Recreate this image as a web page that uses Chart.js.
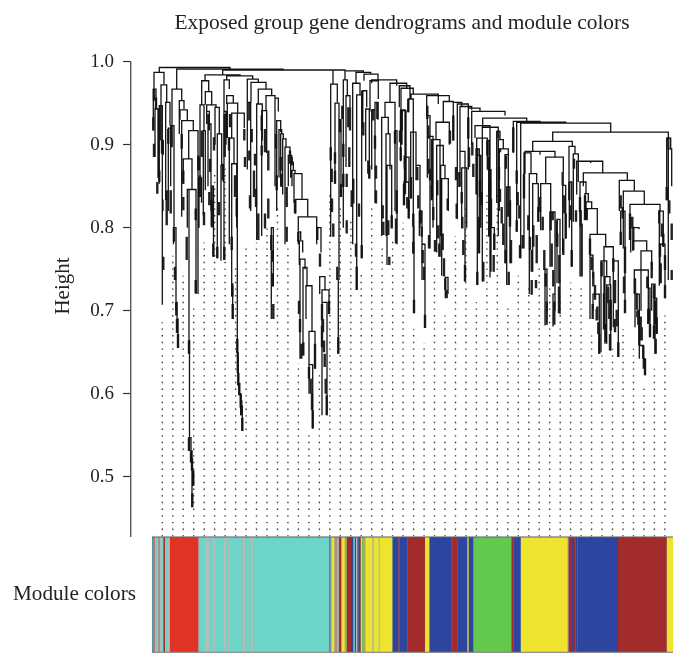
<!DOCTYPE html>
<html><head><meta charset="utf-8">
<style>html,body{margin:0;padding:0;background:#fff;height:656px;overflow:hidden}canvas{display:block}</style>
<script src="https://cdn.jsdelivr.net/npm/chart.js@4"></script>
</head><body><canvas id="c" width="673" height="673"></canvas>
<script>
const chartTitle = 'Exposed group gene dendrograms and module colors';
const yAxisTitle = 'Height';
const stripLabel = 'Module colors';
const heightTicks = [0.5,0.6,0.7,0.8,0.9,1.0];

// branches: [leftLeaf, rightLeaf, mergeHeight, leftFootHeight, rightFootHeight]
const branchesTop = [
[7.3,78,.993,.987,.991],[24.7,131,.991,.967,.990],[70.7,181,.990,.985,.973],[131,193,.990,.989,.989],
[193,211.3,.989,.978,.987],[204,218.7,.987,.974,.985],[212,226,.985,.977,.977],[219.7,244.7,.978,.974,.974],
[238,254.7,.974,.951,.971],[244.7,254.7,.974,.971,.968]];
const branchesLeft = [
[2,12,.987,.967,.973],[1.3,4,.967,.917,.943],[3,6,.943,.885,.860],[9,14.7,.972,.947,.951],[7.3,10.3,.947,.853,.905],
[10.3,11.3,.905,.833,.888],[10.3,11,.833,.707,.82],[13.7,18,.951,.833,.923],[16.3,18.7,.92,.82,.85],
[20,29.7,.967,.923,.953],[18.7,22,.923,.85,.80],[21.5,24,.80,.78,.71],[24,25,.71,.70,.69],[25,26,.69,.675,.655],
[27.3,32,.953,.913,.943],[28,35.3,.942,.93,.929],[29.7,41.3,.929,.813,.917],[36.7,46,.917,.883,.72],
[31.3,40,.883,.853,.846],[35.3,44,.846,.80,.72],[35.3,37,.846,.80,.664],[37,37.5,.664,.648,.547],
[37,39,.547,.531,.531],[39,40,.531,.517,.522],[40,41.3,.507,.463,.489],[40,40,.522,.507,.507],
[53,88,.984,.977,.983],[49.7,56.7,.977,.948,.964],[53.3,59.7,.964,.948,.948],[48,52,.948,.86,.917],
[47,49.5,.86,.80,.83],[51.3,53.3,.917,.815,.845],[54.7,64,.948,.94,.945],[54.7,57.3,.94,.925,.917],
[56,59,.925,.85,.82],[60,61.5,.85,.80,.765],[63,67.3,.945,.90,.913],[65.3,69.7,.913,.763,.875],
[69,71.3,.875,.76,.855],[72,77.3,.978,.94,.967],[72,74,.94,.761,.90],[74.7,81.3,.959,.949,.95],
[75.3,85.7,.95,.908,.938],[79.7,92.3,.938,.908,.92],[77.3,82,.908,.78,.877],[79.7,84.7,.877,.717,.80],
[85.3,92.3,.938,.649,.92],[85.3,86.3,.649,.625,.61],[86.3,87.3,.61,.613,.598],[87.3,88.7,.60,.598,.583],[88.7,90.3,.585,.574,.555],
[74.7,100.7,.983,.978,.979],[95.3,106.3,.979,.949,.975],[95.3,98.7,.951,.87,.82],[99,114,.975,.951,.967],
[104.7,110.3,.949,.785,.905],[106.3,119.7,.967,.949,.959],[114,123,.959,.941,.956],[109.7,114.7,.941,.79,.89],
[123,126.3,.956,.85,.94],[124.7,128.7,.929,.82,.915],[127,129.7,.918,.86,.913],[128.7,131.3,.913,.85,.907],
[130.7,134,.907,.84,.897],[133,138,.897,.78,.887],[136.3,139.7,.887,.85,.877],[138.7,141.3,.879,.86,.87],
[140,143,.869,.85,.865],[142,150,.865,.83,.834],[143.7,155.7,.834,.817,.813],[146.3,164.7,.813,.796,.80],
[146.3,148.7,.795,.78,.785],[147.3,150.7,.784,.755,.77],[148,153,.762,.642,.75],[151,155,.752,.646,.73],
[154,160,.73,.69,.675],[157,163,.675,.635,.63],[157,160.7,.635,.60,.558],[164.7,169,.80,.78,.77],[167.7,173,.741,.72,.725],
[170,177,.725,.574,.696],[170,175,.71,.655,.574],[119.3,121.3,.80,.69,.729],[80.7,80.7,.73,.69,.69]];
const branchesMiddle = [
[178.7,185.3,.973,.789,.951],[183,187,.95,.853,.737],[187,189,.93,.915,.837],[186.3,186.3,.737,.648,.648],
[191.3,195.3,.978,.80,.958],[194,198,.959,.873,.945],[200.7,208,.974,.78,.96],[204.7,209.7,.96,.725,.763],
[210.3,214.7,.965,.92,.945],[213.7,217.3,.943,.88,.86],[218,226.3,.977,.94,.955],[219.7,223,.942,.87,.91],
[223,226,.951,.83,.93],[233,243,.951,.933,.917],[229.7,236.3,.933,.79,.913],[234,238,.913,.79,.87],
[235,239.7,.875,.755,.80],[243,245,.917,.82,.78],[247.3,258,.971,.945,.955],[248.7,253,.942,.88,.84],[253,257,.885,.84,.82],
[249,261.3,.968,.917,.961],[259,286.3,.961,.955,.949],[256.3,261.3,.955,.939,.801],[261.3,262,.801,.769,.697],
[250,254,.941,.90,.855],[252,256.7,.855,.827,.811],[258.7,264,.915,.835,.875],[264,268,.875,.857,.80],
[267.3,270,.82,.79,.78],[270,273,.78,.737,.679],[274.7,297.3,.959,.935,.952],[275.3,278,.935,.865,.775],
[275.3,281,.91,.86,.80],[291.3,301.3,.952,.927,.935],[284,297.3,.927,.906,.90],[279.7,288,.906,.835,.765],
[284.7,291.3,.899,.77,.875],[288.7,293,.875,.79,.859],[289.7,296.3,.859,.742,.82],[293.3,296,.74,.715,.72],
[301.3,309.7,.951,.905,.947],[305.3,316.3,.949,.81,.93],[308,319.7,.946,.89,.942],[316.3,328,.944,.87,.94],
[308,313,.892,.85,.735],[309.7,314.7,.872,.80,.80],[319.7,353,.94,.90,.935],[330.7,374.7,.932,.921,.928],
[323,338,.923,.908,.74],[324.7,335.3,.908,.887,.905],[324,327.3,.895,.84,.77],[325.3,328.7,.887,.731,.80],
[335.3,337,.905,.87,.85],[336.7,339,.87,.79,.80],[339,342.3,.80,.747,.773],[330.3,346.3,.921,.735,.916],
[344.7,348,.916,.83,.906],[346.3,351.3,.906,.79,.895],[347.3,356.3,.895,.82,.888],[353,356.3,.888,.757,.849],[354.7,358,.849,.731,.757]];
const branchesRight = [
[361.3,388,.928,.89,.927],[364.7,413.7,.927,.795,.926],[368.7,458.7,.926,.763,.915],[400.7,516.3,.915,.904,.908],
[380.7,420.3,.904,.892,.898],[373,403,.892,.865,.885],[388,403,.892,.888,.888],[393.7,411.3,.885,.853,.867],[388.7,398.7,.853,.797,.819],
[380.7,386.3,.853,.747,.807],[377.3,384.7,.865,.72,.853],[372,379,.89,.775,.865],[398,403,.819,.753,.72],
[401,403,.72,.681,.70],[410.7,413.7,.851,.77,.787],[405,408,.81,.733,.696],[393,395,.75,.682,.70],
[417,423,.898,.855,.889],[417.3,419.7,.855,.80,.753],[421.3,426.3,.889,.807,.88],[424.7,438.7,.88,.84,.878],
[426.3,450.7,.88,.855,.866],[431.3,475.3,.866,.85,.857],[428,434,.855,.741,.841],[433,436.3,.841,.81,.831],
[434,439.7,.831,.81,.823],[434.7,445.3,.823,.81,.792],[438,453.7,.792,.705,.777],[452,461.3,.777,.68,.76],
[449,454.7,.76,.65,.74],[453,458,.741,.66,.731],[454.7,458.7,.731,.66,.652],[438,441,.767,.69,.74],[441,447.3,.72,.70,.648],
[461.3,466.3,.76,.68,.644],[467.3,482.3,.857,.82,.844],[471.3,492.3,.844,.775,.828],[478,508,.828,.785,.82],
[478.7,487,.80,.77,.798],[481,494.7,.784,.772,.772],[489,499.7,.772,.70,.749],[482.3,496.3,.749,.72,.727],
[483,487.3,.72,.68,.658],[487.3,491.3,.658,.642,.64],[491.3,493,.642,.63,.622],[496.3,498,.727,.684,.668],
[499.7,503,.732,.70,.648],[502,504.7,.715,.666,.672],[514.7,518.7,.908,.833,.895],[516.3,519.7,.895,.737,.85],
[507.3,511.3,.82,.73,.777],[508,513,.78,.733,.715],[468.7,473,.82,.779,.699]];

// dense narrow merges: [leaf, topHeight, bottomHeight]
const stubsLeft = [[1.3,.933,.917],[2,.901,.885],[4,.957,.943],[2,.967,.953],[7.3,.869,.855],[5.3,.855,.841],[10,.905,.889],[8.7,.947,.905],
[14.7,.845,.803],[18.7,.845,.817],[16.3,.919,.901],[19.7,.923,.897],[11.3,.765,.749],[22,.799,.783],[23,.753,.737],[29.7,.913,.895],
[31.3,.869,.853],[31.3,.837,.821],[46.3,.887,.869],[43.7,.823,.809],[43.7,.737,.721],[34.7,.789,.761],[49.7,.917,.885],[47,.885,.869],
[48,.863,.837],[52,.819,.803],[56.3,.937,.925],[58,.883,.867],[57.3,.843,.827],[59.7,.833,.801],[62,.909,.893],[61.3,.781,.765],[67,.831,.815],
[65.3,.777,.763],[70.7,.877,.857],[72.7,.937,.885],[77,.909,.893],[78,.937,.921],[72.3,.777,.761],[79.7,.789,.773],[83,.863,.837],[84.7,.835,.813],
[80.3,.733,.717],[92.3,.919,.905],[93,.885,.873],[97.3,.951,.929],[99.7,.919,.903],[97.3,.893,.881],[103,.889,.875],[102,.869,.837],[98,.839,.823],
[104,.847,.825],[106.3,.817,.785],[109.7,.935,.917],[109.7,.899,.887],[113,.919,.891],[116.3,.893,.869],[113,.817,.799],[116.3,.835,.811],
[119.3,.791,.773],[120.7,.773,.759],[120.7,.745,.729],[124,.913,.895],[124.7,.863,.845],[128.7,.885,.869],[129.7,.865,.849],[134.7,.849,.825],
[134.7,.801,.783],[143,.834,.817],[165.3,.801,.785],[168,.769,.753],[146.3,.795,.783],[138,.893,.877],[139.7,.885,.875],
[24.3,.71,.694],[25,.69,.673],[26,.672,.655],[37,.664,.648],[37,.547,.531],[39,.531,.517],[40,.522,.507],[41.3,.507,.489],[40.3,.48,.463],
[85.3,.666,.649],[86.3,.625,.61],[87.3,.613,.598],[88.7,.60,.583],[89.3,.592,.574],[90.3,.571,.555],[121.3,.708,.69],[80.7,.708,.69],
[147,.712,.696],[148,.69,.674],[149.3,.66,.642],[151.3,.662,.646],[157,.632,.618],[158.7,.618,.60],[160,.60,.58],[160.7,.58,.558],
[170,.708,.688],[171,.69,.674],[170,.682,.656],[172,.664,.65],[172.7,.648,.632],[173.7,.618,.60],[174.7,.598,.574],[163,.66,.63],[177,.712,.696]];
const stubsMiddle = [[178.7,.897,.881],[179.7,.871,.855],[180,.835,.819],[181.3,.805,.789],[183,.891,.877],[183,.869,.853],[188,.931,.915],[189,.853,.837],
[185.3,.753,.737],[186.3,.668,.648],[190.3,.947,.931],[191.3,.901,.885],[191.3,.865,.849],[198,.945,.917],[196.3,.945,.921],[197.3,.897,.873],[194.7,.865,.849],
[199.7,.845,.825],[194.7,.809,.793],[204,.781,.765],[204.7,.753,.725],[201.3,.859,.829],[207,.829,.813],[209.7,.779,.763],[210.3,.965,.923],[211.3,.927,.911],
[216.3,.881,.865],[217.3,.875,.859],[225.3,.951,.931],[221.3,.943,.929],[224,.875,.859],[223,.911,.895],[224,.845,.829],[230.7,.827,.811],[231.3,.807,.791],
[236.3,.809,.791],[239.7,.815,.799],[244,.811,.781],[237.3,.765,.755],[244.7,.845,.817],[249.7,.941,.917],[248.7,.897,.881],[243,.917,.901],[256.3,.955,.939],
[253,.885,.865],[253,.855,.841],[249,.941,.917],[248,.917,.903],[252.7,.887,.871],[253,.871,.855],[252,.853,.827],[255.3,.837,.823],[259,.861,.835],[256.7,.833,.811],
[261.3,.817,.801],[261.3,.783,.769],[262,.713,.697],[265.3,.873,.857],[266.3,.839,.823],[268.7,.821,.805],[269.7,.801,.789],[270.7,.773,.757],[272,.753,.737],
[273,.695,.679],[275.3,.947,.931],[276.3,.923,.907],[276.3,.883,.865],[278,.871,.857],[279.7,.851,.833],[281.3,.825,.809],[277,.791,.775],[283,.785,.771],
[285.3,.857,.839],[286.3,.803,.787],[287.3,.781,.765],[290.7,.793,.773],[292,.763,.741],[293.3,.739,.725],[294.7,.725,.715],[295.7,.835,.821],[298,.917,.901],
[301.3,.935,.905],[304,.873,.857],[304.7,.829,.811],[307.3,.867,.849],[309.7,.843,.829],[310.3,.813,.799],[311.3,.785,.767],[313,.755,.735],[316.3,.933,.907],
[317,.897,.873],[320.3,.903,.887],[321.3,.877,.861],[325.3,.895,.887],[328,.857,.837],[329.7,.843,.827],[327,.813,.769],[325.3,.747,.731],[331.3,.759,.735],
[335.3,.905,.887],[336.7,.885,.869],[338,.857,.839],[339,.835,.801],[337.3,.803,.789],[342.3,.793,.773],[341.7,.767,.747],[346.3,.917,.907],[348,.895,.891],
[347,.873,.857],[348,.847,.831],[349.7,.825,.805],[351.3,.805,.779],[354,.887,.871],[353.7,.773,.757],[356.3,.849,.813],[358,.833,.801],[359,.785,.757],[356.7,.747,.731]];
const stubsRight = [[361.3,.921,.891],[364.7,.869,.853],[365.7,.843,.827],[367.3,.827,.811],[364.7,.809,.795],[368,.779,.763],[372,.865,.835],[370.7,.791,.775],
[376.3,.815,.797],[378,.789,.773],[379.7,.773,.747],[379.7,.737,.719],[384,.737,.727],[381.3,.803,.777],[384.7,.791,.757],[386.3,.825,.807],[388,.837,.819],
[390.7,.813,.797],[392.3,.773,.749],[393.7,.745,.729],[394.7,.711,.683],[398.7,.819,.797],[400.7,.819,.809],[399.7,.781,.753],[401.3,.749,.729],[402.3,.711,.683],
[404.7,.809,.777],[405.3,.793,.777],[407.3,.767,.733],[407,.729,.697],[410.7,.867,.851],[412.3,.839,.817],[413.7,.817,.787],[411.3,.787,.767],[417.3,.855,.833],
[418.7,.827,.809],[419.7,.773,.753],[422,.883,.871],[424,.821,.807],[428,.837,.819],[428.7,.821,.801],[429.7,.805,.741],[433,.839,.809],[434.7,.823,.809],
[438,.787,.767],[439.7,.765,.749],[441.3,.747,.729],[443,.731,.713],[440.7,.708,.69],[445.3,.705,.689],[449.7,.759,.741],[452,.721,.699],[452,.697,.677],
[456.3,.729,.709],[458.7,.713,.685],[461.3,.763,.747],[463,.737,.709],[464.7,.701,.681],[468.7,.839,.823],[470.7,.825,.811],[468.7,.795,.779],[473,.777,.745],
[472,.741,.721],[473,.713,.697],[478,.817,.785],[480.3,.813,.801],[481.3,.801,.773],[483,.739,.721],[484.7,.721,.701],[486.3,.701,.683],[488.7,.693,.677],
[495.3,.741,.727],[497,.703,.687],[499.7,.759,.739],[502,.731,.715],[507.3,.821,.805],[508,.781,.765],[509.7,.805,.789],[511.3,.793,.777],[513,.767,.749],
[508.7,.757,.733],[513,.731,.715],[516.3,.909,.895],[514.7,.849,.833],[517.3,.833,.817],[519.7,.805,.785],[519.7,.749,.737],
[444.7,.702,.688],[446.3,.686,.672],[447.3,.672,.648],[452,.708,.688],[453.7,.684,.662],[458,.672,.652],[457.3,.712,.69],[458.7,.69,.676],[463,.69,.674],
[466.3,.662,.644],[485.3,.70,.692],[487.3,.692,.658],[489.7,.68,.664],[491.3,.658,.642],[493,.642,.622],[496.3,.702,.684],[498,.684,.668],[502,.682,.666],
[504.7,.692,.672],[503.7,.666,.648],[503,.712,.684]];

// dotted guides: leaf position and the height where each stops
const guideBase = 0.4277;
const guideLeaf = [10.3,20.8,31.2,41.7,52.2,62.6,73.1,83.6,94.1,104.5,115,125.5,135.9,146.4,156.9,167.4,177.8,188.3,198.8,209.2,219.7,230.2,240.6,
251.1,261.6,272.1,282.5,293,303.5,313.9,324.4,334.9,345.3,355.8,366.3,376.8,387.2,397.7,408.2,418.6,429.1,439.6,450,460.5,471,481.5,491.9,502.4,512.9];
const guideTop = [.686,.766,.742,.706,.782,.865,.871,.752,.775,.782,.799,.830,.775,.637,.555,.622,.839,.829,.808,.745,.824,.775,.784,
.806,.678,.661,.751,.694,.790,.830,.710,.839,.839,.708,.742,.727,.751,.727,.718,.734,.728,.670,.646,.654,.678,.654,.606,.630,.694];

// module colour strip
const moduleStart = 0.3;
const moduleEnds = [1.7,3,4.7,6,8,10,11.3,13,15.3,17.7,46.3,47.3,53,57,61,63.7,71.7,74,75.5,77,90.3,93.3,98.7,101,177,178.7,180,182.3,185.3,186.7,189.3,192.7,194.7,199,201.3,202.7,204,205.3,206.7,208.7,210,211,213.3,220.3,221.7,226.7,228,240.3,246.3,247.3,255.5,273,277.3,299.7,305.3,315,317,321.3,359.3,361.3,368.7,415,416.3,420,422,423.3,425.3,426,466,514.7,521];
const moduleNames = ['teal','mix','turquoise','grey','taupe','grey','turquoise','brown','turquoise','grey','red','grey','turquoise','grey','turquoise','grey','turquoise','grey','turquoise','grey','turquoise','grey','turquoise','grey','turquoise','slate','turquoise','yellow','taupe','grey','brown','yellow','olive','brown','blue','turquoise','blue','grey','blue','brown','yellow','green','olive','yellow','grey','yellow','grey','yellow','blue','brown','blue','brown','yellow','blue','brown','blue','olive','blue','green','brown','blue','yellow','grey','brown','blue','brown','blue','brown','blue','brown','yellow'];
const modulePalette = {turquoise:'#6DD5C8',red:'#E03325',grey:'#B7BBB8',blue:'#2E45A0',brown:'#A22B2B',yellow:'#EEE430',green:'#62C84E',teal:'#3D9FBE',mix:'#C0706A',taupe:'#A8908C',slate:'#6E7FB8',olive:'#A7A85A'};

const allBranches = [...branchesTop,...branchesLeft,...branchesMiddle,...branchesRight];
const allStubs = [...stubsLeft,...stubsMiddle,...stubsRight];
const treePts = [];
allBranches.forEach(b=>{treePts.push({x:b[0],y:b[3]},{x:b[0],y:b[2]},{x:b[1],y:b[2]},{x:b[1],y:b[4]},{x:b[1],y:null});});
const stubPts = [];
allStubs.forEach(s=>{stubPts.push({x:s[0],y:s[1]},{x:s[0],y:s[2]},{x:s[0],y:null});});
const guidePts = [];
guideLeaf.forEach((x,i)=>{guidePts.push({x,y:guideBase},{x,y:guideTop[i]},{x,y:null});});

const moduleSets = moduleEnds.map((end,i)=>({
  type:'bar',indexAxis:'y',xAxisID:'x',yAxisID:'strip',grouped:false,
  barPercentage:.985,categoryPercentage:1,borderWidth:0,
  backgroundColor:modulePalette[moduleNames[i]],
  data:[{x:[i?moduleEnds[i-1]:moduleStart,end],y:stripLabel}]
}));

const serif = '"Liberation Serif", serif';
const heightLabel = {id:'heightLabel',afterDraw(chart){
  const c=chart.ctx;c.save();c.translate(63,286);c.rotate(-Math.PI/2);
  c.font='21px '+serif;c.fillStyle='#222';c.textAlign='center';c.textBaseline='middle';
  c.fillText(yAxisTitle,0,0);c.restore();}};

new Chart(document.getElementById('c'),{
  type:'line',
  data:{datasets:[
    {type:'line',data:treePts,borderColor:'#111',borderWidth:1.3,pointRadius:0,borderDash:[9999,1],xAxisID:'x',yAxisID:'y'},
    {type:'line',data:stubPts,borderColor:'#222',borderWidth:2.4,pointRadius:0,borderDash:[9999,1],xAxisID:'x',yAxisID:'y'},
    {type:'line',data:guidePts,borderColor:'#333',borderWidth:1.4,borderDash:[1.4,5.27],pointRadius:0,xAxisID:'x',yAxisID:'y'},
    ...moduleSets,
    {type:'bar',indexAxis:'y',xAxisID:'x',yAxisID:'strip',grouped:false,barPercentage:.985,categoryPercentage:1,borderWidth:0,backgroundColor:'#8FB0A8',data:[{x:[0.3,521],y:stripLabel}]},
    {type:'bar',indexAxis:'y',xAxisID:'x',yAxisID:'strip',grouped:false,barPercentage:1,categoryPercentage:1,borderWidth:0,backgroundColor:'#222',data:[{x:[0.3,521],y:stripLabel}]}
  ]},
  options:{
    responsive:false,animation:false,devicePixelRatio:1,
    layout:{autoPadding:false,padding:{left:0,right:0,top:0,bottom:4}},
    plugins:{legend:{display:false},tooltip:{enabled:false},
      title:{display:true,text:chartTitle,fullSize:false,color:'#222',font:{family:serif,size:21.4,weight:'normal'},padding:{top:11,bottom:25}}},
    scales:{
      strip:{type:'category',labels:[stripLabel],position:'left',stack:'v',stackWeight:116,offset:true,
        afterFit(s){s.width=131;},
        border:{display:false},
        grid:{display:false,drawTicks:false},
        ticks:{color:'#222',mirror:true,padding:-118,font:{family:serif,size:21.2},autoSkip:false,maxRotation:0}},
      y:{type:'linear',position:'left',stack:'v',stackWeight:475,min:.4277,max:1,
        afterBuildTicks(s){s.ticks=heightTicks.map(v=>({value:v}));},
        afterFit(s){s.width=131;},
        border:{display:true,color:'#555',width:1.4},
        grid:{drawOnChartArea:false,drawTicks:true,tickLength:8,color:'#333',tickWidth:1.2},
        ticks:{color:'#222',padding:9,font:{family:serif,size:19},callback:v=>Number(v).toFixed(1),autoSkip:false,maxRotation:0}},
      x:{type:'linear',min:-21,max:521,display:false}
    }
  },
  plugins:[heightLabel]
});
</script></body></html>
